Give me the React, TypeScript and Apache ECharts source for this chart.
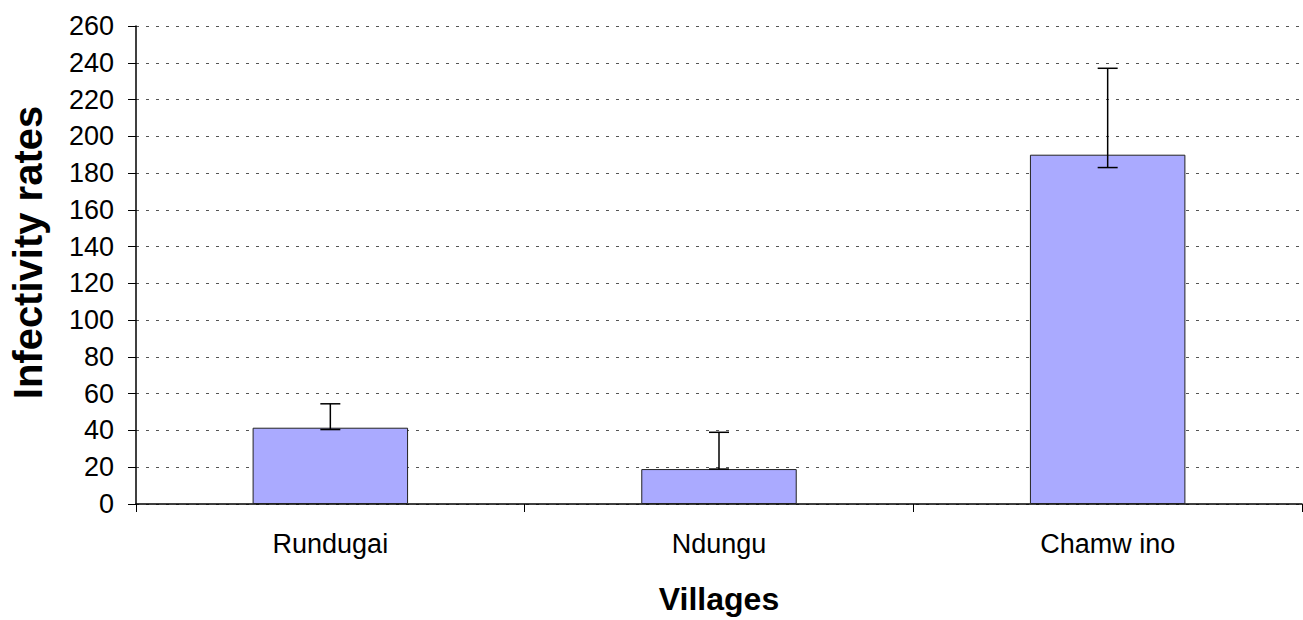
import React, { useEffect, useRef } from "react";
import * as echarts from "echarts";

const categories = ["Rundugai", "Ndungu", "Chamw ino"];
const means = [41.5, 19, 190];
const errLow = [40.5, 19, 183];
const errHigh = [54.5, 39, 237];
const yTicks = { min: 0, max: 260, interval: 20 };

export default function App() {
  const ref = useRef<HTMLDivElement>(null);
  useEffect(() => {
    if (!ref.current) return;
    const chart = echarts.init(ref.current, undefined, { renderer: "svg" });
    const font = "Arial, 'Liberation Sans', sans-serif";
    chart.setOption({
      animation: false,
      backgroundColor: "#ffffff",
      grid: { left: 132, top: 26, width: 1170, height: 481, containLabel: false },
      xAxis: {
        type: "category",
        data: categories,
        boundaryGap: true,
        name: "Villages",
        nameLocation: "middle",
        nameGap: 79,
        nameTextStyle: { fontFamily: font, fontSize: 32, fontWeight: "bold", color: "#000" },
        axisLine: { lineStyle: { color: "#000", width: 1.5 } },
        axisTick: { show: true, inside: false, length: 8, lineStyle: { color: "#000", width: 1 } },
        axisLabel: { fontFamily: font, fontSize: 27, color: "#000", margin: 26 },
        splitLine: { show: false },
      },
      yAxis: {
        type: "value",
        min: yTicks.min,
        max: yTicks.max,
        interval: yTicks.interval,
        name: "Infectivity rates",
        nameLocation: "middle",
        nameGap: 88,
        nameTextStyle: {
          fontFamily: font,
          fontSize: 40,
          fontWeight: "bold",
          color: "#000",
          padding: [0, 0, 0, 25],
        },
        axisLine: { show: true, lineStyle: { color: "#000", width: 1.5 } },
        axisTick: { show: true, inside: false, length: 8, lineStyle: { color: "#000", width: 1 } },
        axisLabel: { fontFamily: font, fontSize: 27, color: "#000", margin: 22 },
        splitLine: { show: true, lineStyle: { color: "#555", type: [3, 7], width: 1 } },
      },
      series: [
        {
          type: "bar",
          data: means,
          barWidth: "40%",
          itemStyle: { color: "#AAAAFF", borderColor: "#222", borderWidth: 1 },
          z: 2,
        },
        {
          type: "custom",
          z: 5,
          data: categories.map((_, i) => [i, errLow[i], errHigh[i]]),
          renderItem: (params: any, api: any) => {
            const x = api.value(0);
            const lo = api.coord([x, api.value(1)]);
            const hi = api.coord([x, api.value(2)]);
            const half = 10;
            const style = { stroke: "#000", lineWidth: 1.5 };
            return {
              type: "group",
              children: [
                { type: "line", shape: { x1: hi[0], y1: hi[1], x2: lo[0], y2: lo[1] }, style },
                { type: "line", shape: { x1: hi[0] - half, y1: hi[1], x2: hi[0] + half, y2: hi[1] }, style },
                { type: "line", shape: { x1: lo[0] - half, y1: lo[1], x2: lo[0] + half, y2: lo[1] }, style },
              ],
            };
          },
        },
      ],
    });
    return () => chart.dispose();
  }, []);
  return (
    <div
      ref={ref}
      style={{ position: "fixed", left: 0, top: 0, width: 1303, height: 620, background: "#fff" }}
    />
  );
}
